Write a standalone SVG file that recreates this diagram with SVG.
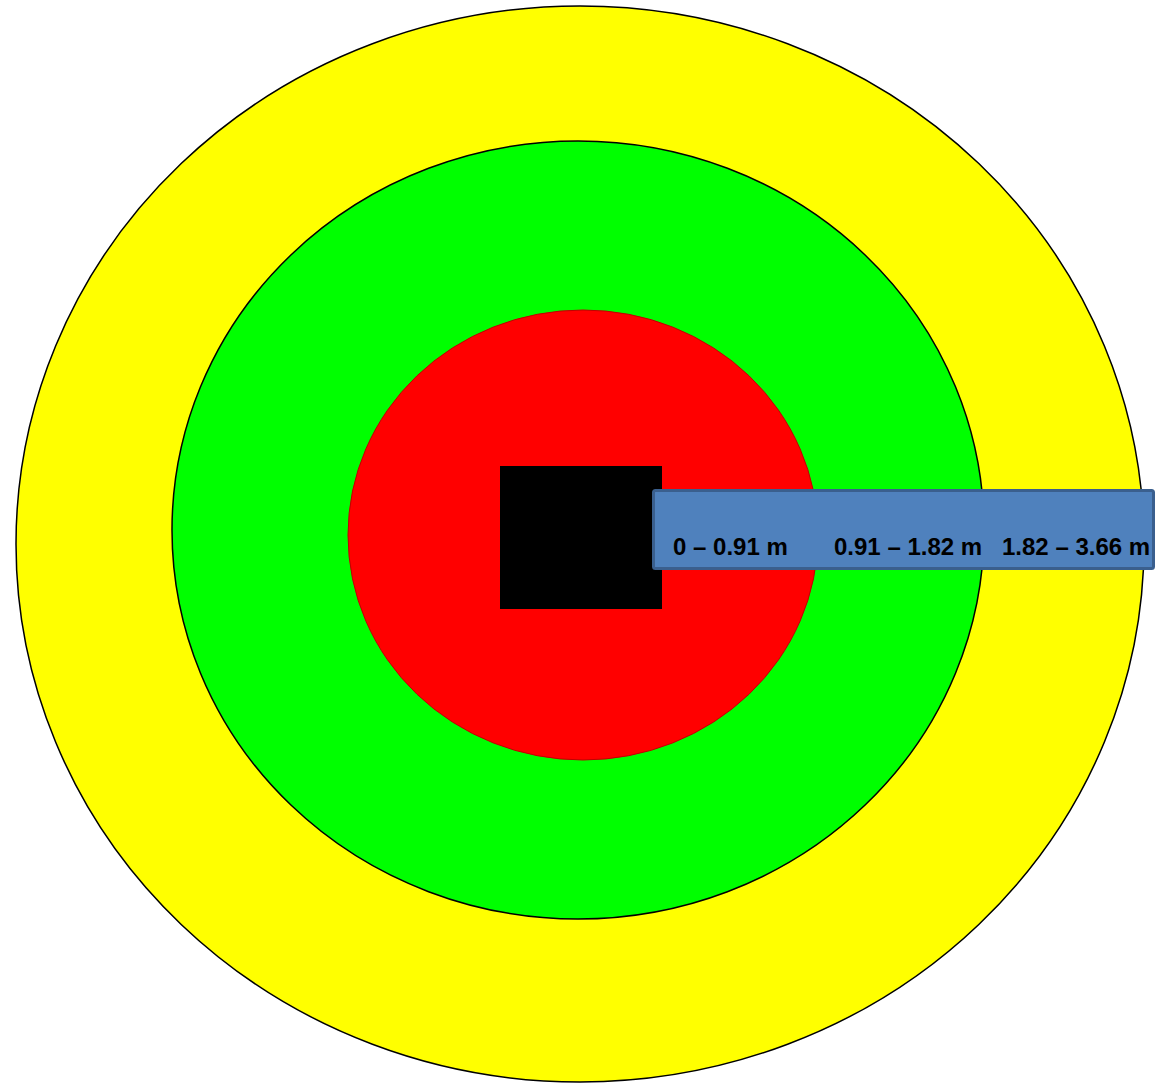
<svg xmlns="http://www.w3.org/2000/svg" width="1159" height="1084" viewBox="0 0 1159 1084">
  <style>
    .ring { stroke: #000; stroke-width: 1.5; }
    .lbl { font-family: "Liberation Sans", Arial, sans-serif; font-weight: bold; font-size: 24px; fill: #000; }
  </style>
  <rect width="1159" height="1084" fill="#fff"/>
  <g id="zone-yellow"><ellipse class="ring" cx="580" cy="544" rx="564" ry="538" fill="#FFFF00"/></g>
  <g id="zone-green"><ellipse class="ring" cx="578" cy="530" rx="406" ry="389" fill="#00FF00"/></g>
  <g id="zone-red"><ellipse cx="583" cy="535" rx="235" ry="225" fill="#FF0000" stroke="#C00000" stroke-width="1"/></g>
  <g id="center-square"><rect x="500" y="466" width="162" height="143" fill="#000"/></g>
  <g id="legend">
    <rect x="653.5" y="490.5" width="500" height="78" rx="2" fill="#4F81BD" stroke="#3A5F8E" stroke-width="3"/>
    <text class="lbl" x="673" y="555">0 – 0.91 m</text>
    <text class="lbl" x="834" y="555">0.91 – 1.82 m</text>
    <text class="lbl" x="1002" y="555">1.82 – 3.66 m</text>
  </g>
  <g id="connectors"/>
</svg>
